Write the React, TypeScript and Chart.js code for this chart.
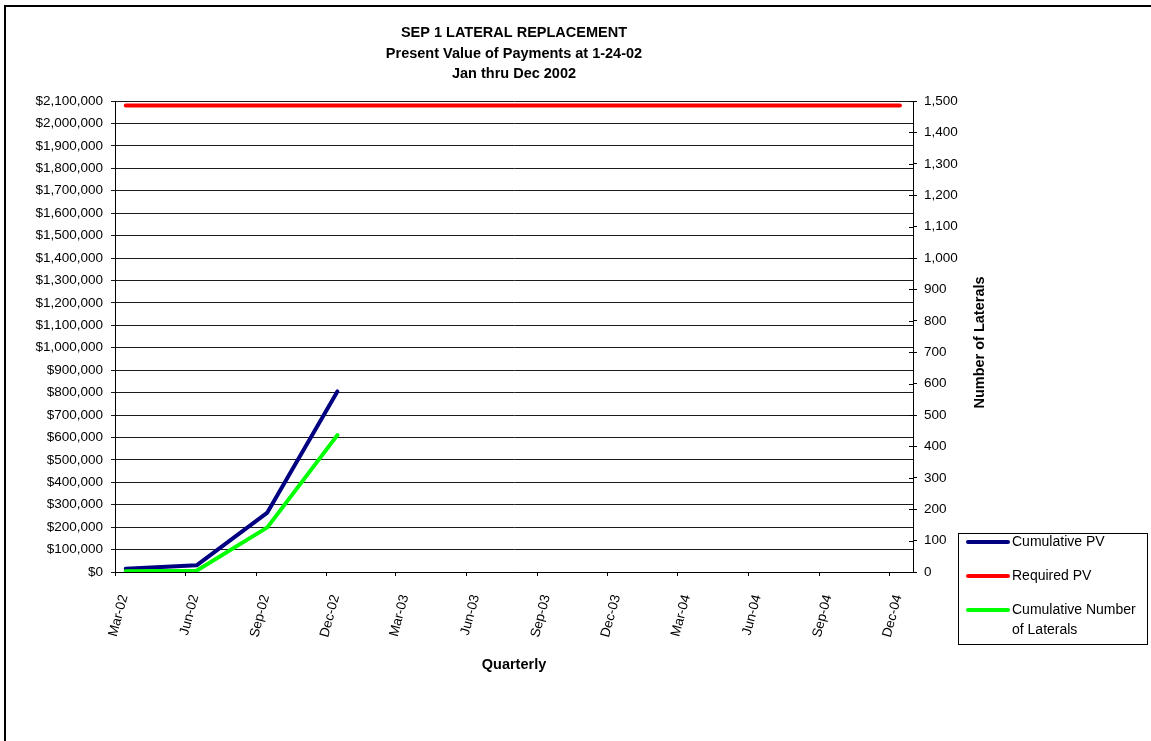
import React, { useEffect, useRef } from 'react';
import { Chart, registerables } from 'chart.js';

Chart.register(...registerables);

// ---- data ----
const titleLines = ['SEP 1 LATERAL REPLACEMENT', 'Present Value of Payments at 1-24-02', 'Jan thru Dec 2002'];
const xAxisTitle = 'Quarterly';
const y2AxisTitle = 'Number of Laterals';

const quarterLabels = ['Mar-02', 'Jun-02', 'Sep-02', 'Dec-02', 'Mar-03', 'Jun-03', 'Sep-03', 'Dec-03', 'Mar-04', 'Jun-04', 'Sep-04', 'Dec-04'];
const quarterTickDates = ['2002-03-01', '2002-06-01', '2002-09-01', '2002-12-01', '2003-03-01', '2003-06-01', '2003-09-01', '2003-12-01', '2004-03-01', '2004-06-01', '2004-09-01', '2004-12-01'];
const axisStartDate = '2002-03-01';
const axisEndDate = '2005-01-01';
const pointDates = ['2002-03-15', '2002-06-15', '2002-09-15', '2002-12-15', '2003-03-15', '2003-06-15', '2003-09-15', '2003-12-15', '2004-03-15', '2004-06-15', '2004-09-15', '2004-12-15'];

const seriesNames = ['Cumulative PV', 'Required PV', 'Cumulative Number of Laterals'];
const seriesColors = ['#000080', '#FF0000', '#00FF00'];
const cumulativePV = [15000, 30000, 265000, 805000];
const requiredPV = [2080000, 2080000, 2080000, 2080000, 2080000, 2080000, 2080000, 2080000, 2080000, 2080000, 2080000, 2080000];
const cumulativeLaterals = [2, 4, 142, 436];

const pvMin = 0;
const pvMax = 2100000;
const pvStep = 100000;
const lateralsMin = 0;
const lateralsMax = 1500;
const lateralsStep = 100;

const FONT = '"Liberation Sans", Arial, Helvetica, sans-serif';

const toPoints = (values: number[]) => values.map((v, i) => ({ x: Date.parse(pointDates[i]), y: v }));

const decorPlugin = {
  id: 'decor',
  beforeDraw(chart: any) {
    const ctx = chart.ctx;
    ctx.save();
    ctx.fillStyle = '#ffffff';
    ctx.fillRect(0, 0, chart.width, chart.height);
    ctx.fillStyle = '#000000';
    ctx.fillRect(4, 5, chart.width - 4, 2);
    ctx.fillRect(4, 5, 2, chart.height - 5);
    ctx.restore();
  },
  afterDraw(chart: any) {
    const ctx = chart.ctx;
    const area = chart.chartArea;
    ctx.save();
    // inner tick marks of the right axis
    const s2 = chart.scales.y2;
    ctx.strokeStyle = '#000';
    ctx.lineWidth = 1;
    ctx.beginPath();
    s2.ticks.forEach((t: any) => {
      const yy = Math.round(s2.getPixelForValue(t.value)) + 0.5;
      ctx.moveTo(area.right - 4, yy);
      ctx.lineTo(area.right, yy);
    });
    ctx.stroke();

    // right axis title (reads bottom to top)
    ctx.fillStyle = '#000';
    ctx.font = 'bold 14.5px ' + FONT;
    ctx.textAlign = 'center';
    ctx.textBaseline = 'middle';
    ctx.translate(980, (area.top + area.bottom) / 2 + 6);
    ctx.rotate(-Math.PI / 2);
    ctx.fillText(y2AxisTitle, 0, 0);
    ctx.restore();

    // legend
    ctx.save();
    const bx = 958, by = 533, bw = 189, bh = 111;
    ctx.strokeStyle = '#000';
    ctx.lineWidth = 1;
    ctx.strokeRect(bx + 0.5, by + 0.5, bw, bh);
    ctx.font = '14px ' + FONT;
    ctx.textAlign = 'left';
    ctx.textBaseline = 'middle';
    ctx.fillStyle = '#000';
    const textX = 1012;
    const maxW = bx + bw - textX - 4;
    chart.data.datasets.forEach((ds: any, i: number) => {
      const y = 542 + i * 34;
      ctx.strokeStyle = ds.borderColor;
      ctx.lineWidth = 4;
      ctx.lineCap = 'round';
      ctx.beginPath();
      ctx.moveTo(968, y);
      ctx.lineTo(1008, y);
      ctx.stroke();
      const words = String(ds.label).split(' ');
      const lines: string[] = [];
      let cur = '';
      words.forEach((w) => {
        const test = cur ? cur + ' ' + w : w;
        if (cur && ctx.measureText(test).width > maxW) {
          lines.push(cur);
          cur = w;
        } else {
          cur = test;
        }
      });
      if (cur) lines.push(cur);
      lines.forEach((ln, k) => ctx.fillText(ln, textX, y + k * 20));
    });
    ctx.restore();
  },
};

export default function App() {
  const ref = useRef<HTMLCanvasElement | null>(null);

  useEffect(() => {
    if (!ref.current) return;
    const tickFont = { family: FONT, size: 13.5 };
    const chart = new Chart(ref.current, {
      type: 'line',
      data: {
        datasets: [
          {
            label: seriesNames[0],
            data: toPoints(cumulativePV),
            borderColor: seriesColors[0],
            backgroundColor: seriesColors[0],
            yAxisID: 'y',
            order: 2,
          },
          {
            label: seriesNames[1],
            data: toPoints(requiredPV),
            borderColor: seriesColors[1],
            backgroundColor: seriesColors[1],
            yAxisID: 'y',
            order: 1,
          },
          {
            label: seriesNames[2],
            data: toPoints(cumulativeLaterals),
            borderColor: seriesColors[2],
            backgroundColor: seriesColors[2],
            yAxisID: 'y2',
            order: 0,
          },
        ],
      },
      options: {
        responsive: false,
        maintainAspectRatio: false,
        animation: false,
        devicePixelRatio: 1,
        layout: { padding: 0 },
        elements: {
          point: { radius: 0, hoverRadius: 0 },
          line: { tension: 0, borderWidth: 4, borderCapStyle: 'round', borderJoinStyle: 'round', fill: false },
        },
        plugins: {
          legend: { display: false },
          tooltip: { enabled: false },
          title: {
            display: true,
            text: titleLines,
            fullSize: false,
            color: '#000',
            font: { family: FONT, size: 14.5, weight: 'bold', lineHeight: 1.414 },
            padding: { top: 23, bottom: 16.5 },
          },
        },
        scales: {
          x: {
            type: 'linear',
            position: 'bottom',
            min: Date.parse(axisStartDate),
            max: Date.parse(axisEndDate),
            afterBuildTicks: (s: any) => {
              s.ticks = quarterTickDates.map((d) => ({ value: Date.parse(d) }));
            },
            afterFit: (s: any) => {
              s.height = 169;
            },
            ticks: {
              autoSkip: false,
              minRotation: 75,
              maxRotation: 75,
              padding: 17,
              labelOffset: 9,
              color: '#000',
              font: tickFont,
              callback: (_v: any, i: number) => quarterLabels[i],
            },
            grid: { drawOnChartArea: false, drawTicks: true, tickLength: 4, color: '#000' },
            border: { display: true, color: '#000', width: 1 },
            title: {
              display: true,
              text: xAxisTitle,
              color: '#000',
              font: { family: FONT, size: 14.5, weight: 'bold' },
              padding: { top: 0, bottom: 67 },
            },
          },
          y: {
            type: 'linear',
            position: 'left',
            min: pvMin,
            max: pvMax,
            afterFit: (s: any) => {
              s.width = 115;
            },
            ticks: {
              stepSize: pvStep,
              maxTicksLimit: 100,
              padding: 8,
              color: '#000',
              font: tickFont,
              callback: (v: any) => '$' + Number(v).toLocaleString('en-US'),
            },
            grid: { color: '#1a1a1a', drawTicks: true, tickLength: 4 },
            border: { display: true, color: '#000', width: 1 },
          },
          y2: {
            type: 'linear',
            position: 'right',
            min: lateralsMin,
            max: lateralsMax,
            afterFit: (s: any) => {
              s.width = 238;
            },
            ticks: {
              stepSize: lateralsStep,
              maxTicksLimit: 100,
              padding: 7,
              color: '#000',
              font: tickFont,
              callback: (v: any) => Number(v).toLocaleString('en-US'),
            },
            grid: { drawOnChartArea: false, drawTicks: true, tickLength: 4, color: '#000' },
            border: { display: true, color: '#000', width: 1 },
          },
        },
      } as any,
      plugins: [decorPlugin],
    });
    return () => chart.destroy();
  }, []);

  return (
    <div style={{ position: 'absolute', left: 0, top: 0, width: 1151, height: 741, background: '#fff' }}>
      <canvas ref={ref} width={1151} height={741} style={{ display: 'block' }} />
    </div>
  );
}
